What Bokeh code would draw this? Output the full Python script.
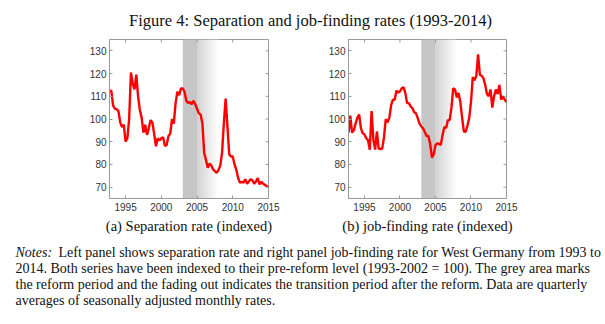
import numpy as np
from bokeh.plotting import figure
from bokeh.models import Range1d, FixedTicker
from bokeh.layouts import column, row
from bokeh.core.properties import value
from bokeh.embed import file_html
from bokeh.resources import INLINE

# ---------------- data ----------------
quarters = 1992.75 + 0.25 * np.arange(90)   # quarterly dates

separation = [112.3, 112.5, 106, 104.5, 104.3, 103.5, 98.5, 96.5, 97.5, 90,
              91.5, 100, 120.5, 115.5, 113, 119.5, 110, 104, 100.5, 94,
              97.5, 93, 96, 99.5, 98.5, 93.5, 88, 91.5, 90.5, 91.5,
              92, 88.2, 88.5, 92.5, 93.5, 100, 98, 107, 112, 110.5,
              113.5, 113.5, 112, 108, 107, 107.5, 106.5, 108, 106.5, 104.5,
              102.5, 102, 98, 85, 82, 78.5, 80.4, 79.5, 77.8, 77,
              76.3, 77.5, 79.5, 85, 98, 109, 97, 84.5, 83.5, 83.5,
              80, 77.5, 74, 72, 72.3, 72, 73.5, 71.5, 72.5, 73.5,
              73, 71.5, 72.5, 74, 71.2, 72.4, 71.5, 71, 70.5, 70.2]

job_finding = [94, 101.5, 94, 95, 98, 100.5, 102, 96, 93.7, 93.2,
               91.5, 90.7, 86.5, 103.5, 91, 86.5, 94.5, 87, 86.8, 87,
               92, 100, 98.5, 100.5, 106, 108.5, 108.5, 112.5, 111.6, 112.2,
               113.5, 114, 111.5, 107, 107, 105.5, 104.8, 103, 102.5, 100.4,
               98, 96.7, 95.9, 94.3, 92.5, 92.5, 89, 83, 84.5, 88.5,
               89.3, 89, 88.6, 93, 96.5, 96, 99.5, 99.5, 105, 113.5,
               113, 109.5, 111.5, 107.5, 100.5, 94.5, 94.4, 97, 100.5, 107.5,
               118.5, 117, 119, 128.5, 119.5, 119, 118, 115, 111, 110,
               113, 105, 110, 113, 111, 115, 108.5, 110, 108.5, 107.5]

reform_period = [2003.0, 2005.0]
transition_end = 2008.0

x_range = [1992.75, 2015.0]
y_range = [65, 135]
x_ticks = [1995, 2000, 2005, 2010, 2015]
y_ticks = [70, 80, 90, 100, 110, 120, 130]

title_text = "Figure 4: Separation and job-finding rates (1993-2014)"
captions = ["(a) Separation rate (indexed)", "(b) job-finding rate (indexed)"]
notes_first = "Left panel shows separation rate and right panel job-finding rate for West Germany from 1993 to"
notes_lines = ["2014. Both series have been indexed to their pre-reform level (1993-2002 = 100). The grey area marks",
               "the reform period and the fading out indicates the transition period after the reform. Data are quarterly",
               "averages of seasonally adjusted monthly rates."]

SERIF = "Liberation Serif"
SANS = "Liberation Sans"
FRAME = "#9a9a9a"


def make_panel(values, caption, width, bleft, bright):
    p = figure(width=width, height=203, x_range=Range1d(*x_range),
               y_range=Range1d(*y_range), output_backend="svg", toolbar_location=None,
               min_border_left=bleft, min_border_right=bright, min_border_top=5,
               min_border_bottom=39, x_axis_label=caption)
    p.grid.visible = False
    p.outline_line_color = FRAME
    p.background_fill_color = "white"
    p.border_fill_color = "white"

    # shaded reform period + fading transition
    dark = 198
    p.quad(left=[reform_period[0]], right=[reform_period[1]], bottom=[y_range[0]], top=[y_range[1]],
           fill_color=f"#{dark:02x}{dark:02x}{dark:02x}", line_color=None)
    n = 60
    edges = np.linspace(reform_period[1], transition_end, n + 1)
    shades = np.linspace(dark, 255, n).round().astype(int)
    cols = [f"#{s:02x}{s:02x}{s:02x}" for s in shades]
    p.quad(left=edges[:-1], right=edges[1:] + 0.01, bottom=y_range[0], top=y_range[1],
           fill_color=cols, line_color=None)

    p.line(quarters, values, line_color="#ff0000", line_width=2.4)

    # inward tick marks on the top and right edges of the box
    p.scatter(x=x_ticks, y=[y_range[1]] * len(x_ticks), marker="dash", size=6, angle=np.pi / 2,
              line_color=FRAME, line_width=1)
    p.scatter(x=[x_range[1]] * len(y_ticks), y=y_ticks, marker="dash", size=6,
              line_color=FRAME, line_width=1)

    p.xaxis.ticker = FixedTicker(ticks=x_ticks)
    p.yaxis.ticker = FixedTicker(ticks=y_ticks)
    for ax in [p.xaxis[0], p.yaxis[0]]:
        ax.major_tick_in = 3
        ax.major_tick_out = 0
        ax.minor_tick_line_color = None
        ax.axis_line_color = FRAME
        ax.major_tick_line_color = FRAME
        ax.major_label_text_font = SANS
        ax.major_label_text_font_size = "10px"
        ax.major_label_text_color = "#333333"
    p.yaxis.major_label_standoff = 3
    p.xaxis.major_label_standoff = 4
    p.xaxis.axis_label_text_font = SERIF
    p.xaxis.axis_label_text_font_size = "14.5px"
    p.xaxis.axis_label_text_font_style = "normal"
    p.xaxis.axis_label_text_color = "#111111"
    p.xaxis.axis_label_standoff = 4
    return p


def blank(width, height):
    p = figure(width=width, height=height, x_range=Range1d(0, width), y_range=Range1d(0, height),
               x_axis_type=None, y_axis_type=None, output_backend="svg", toolbar_location=None,
               min_border=0)
    p.grid.visible = False
    p.outline_line_color = None
    return p


header = blank(605, 34)
header.text(x=[310], y=[14], text=[title_text], text_font=value(SERIF), text_font_size="16.5px",
            text_align="center", text_baseline="middle", text_color="#111111")

left = make_panel(separation, captions[0], 280, 109, 12)
right = make_panel(job_finding, captions[1], 325, 68, 99)

notes = blank(605, 87)
notes.text(x=[15], y=[72], text=["Notes:"], text_font=value(SERIF), text_font_size="14px",
           text_font_style="italic", text_baseline="middle", text_color="#111111")
notes.text(x=[58], y=[72], text=[notes_first], text_font=value(SERIF), text_font_size="14px",
           text_baseline="middle", text_color="#111111")
notes.text(x=[15, 15, 15], y=[56, 40, 24], text=notes_lines, text_font=value(SERIF),
           text_font_size="14px", text_baseline="middle", text_color="#111111")

layout = column(header, row(left, right), notes)
open("out.html", "w").write(file_html(layout, INLINE))
